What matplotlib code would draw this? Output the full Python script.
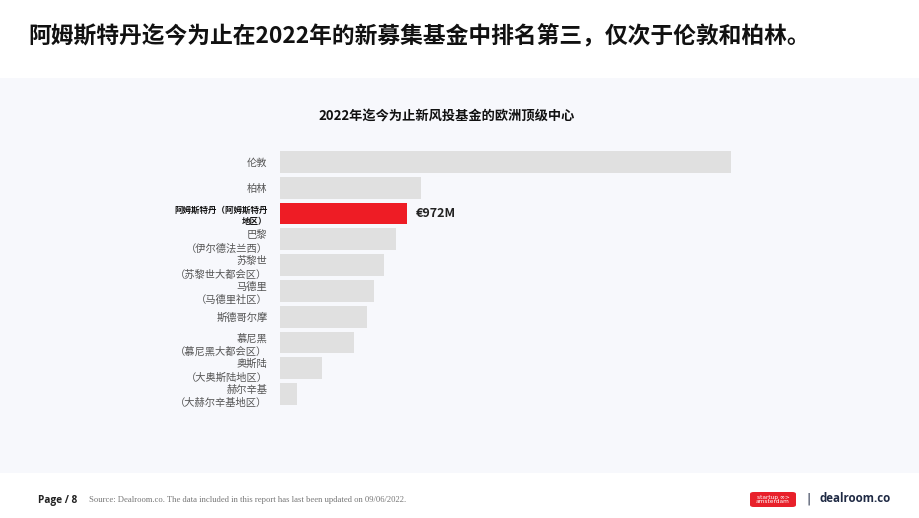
import matplotlib.pyplot as plt
from matplotlib.patches import Rectangle, FancyBboxPatch

plt.rcParams['font.family'] = ['Noto Sans CJK SC', 'DejaVu Sans']

cities = ["伦敦", "柏林", "阿姆斯特丹（阿姆斯特丹\n地区）", "巴黎\n（伊尔德法兰西）", "苏黎世\n（苏黎世大都会区）",
          "马德里\n（马德里社区）", "斯德哥尔摩", "慕尼黑\n（慕尼黑大都会区）", "奥斯陆\n（大奥斯陆地区）",
          "赫尔辛基\n（大赫尔辛基地区）"]
funds = [3450, 1080, 972, 888, 796, 720, 666, 566, 321, 130]
highlight = 2

fig = plt.figure(figsize=(9.2, 5.18), dpi=100)
fig.patch.set_facecolor("white")

# light panel behind the chart
fig.add_artist(Rectangle((0, 45 / 518), 1, 395 / 518, transform=fig.transFigure,
                         facecolor="#f7f8fc", edgecolor="none", zorder=0))

fig.text(28 / 920, 1 - 37 / 518, "阿姆斯特丹迄今为止在2022年的新募集基金中排名第三，仅次于伦敦和柏林。",
         fontsize=16.4, fontweight="bold", color="#111111", va="center", ha="left")
fig.text(447 / 920, 1 - 116 / 518, "2022年迄今为止新风投基金的欧洲顶级中心",
         fontsize=9.5, fontweight="bold", color="#111111", va="center", ha="center")

ax = fig.add_axes([280 / 920, 1 - 407 / 518, 451 / 920, 258 / 518])
ax.set_facecolor("none")
y = list(range(len(cities)))
colors = ["#ee1c25" if i == highlight else "#e0e0e0" for i in y]
ax.barh(y, funds, height=0.84, color=colors)
ax.set_xlim(0, max(funds))
ax.set_ylim(len(cities) - 0.5, -0.5)
ax.set_yticks(y)
ax.set_yticklabels(cities)
for i, lab in enumerate(ax.get_yticklabels()):
    lab.set_fontsize(7.4)
    lab.set_color("#555555")
    lab.set_linespacing(1.4)
    if i == highlight:
        lab.set_fontweight("bold")
        lab.set_color("#111111")
        lab.set_fontsize(6.1)
ax.tick_params(axis="y", length=0, pad=9)
ax.set_xticks([])
for s in ax.spines.values():
    s.set_visible(False)
ax.text(funds[highlight] + 65, highlight, "€972M", fontsize=9, fontweight="bold",
        color="#222222", va="center", ha="left")

# footer
fig.text(38 / 920, 1 - 500 / 518, "Page / 8", fontsize=7.3, fontweight="bold", color="#222222",
         va="center", ha="left", family="Open Sans")
fig.text(89 / 920, 1 - 500 / 518,
         "Source: Dealroom.co. The data included in this report has last been updated on 09/06/2022.",
         fontsize=6.2, color="#777777", va="center", ha="left", family="Liberation Serif")
fig.add_artist(FancyBboxPatch((750 / 920, 1 - 507 / 518), 46 / 920, 15 / 518,
                              boxstyle="round,pad=0,rounding_size=0.004", transform=fig.transFigure,
                              facecolor="#e8202a", edgecolor="none"))
fig.text(773 / 920, 1 - 499.5 / 518, "startup ∞>\namsterdam", fontsize=4.2, color="white",
         va="center", ha="center", linespacing=0.9, family="DejaVu Sans")
fig.text(809 / 920, 1 - 499 / 518, "|", fontsize=9, color="#1f2a44", va="center", ha="center",
         family="DejaVu Sans")
fig.text(820 / 920, 1 - 499 / 518, "dealroom.co", fontsize=8.3, fontweight="bold", color="#1f2a44",
         va="center", ha="left", family="Open Sans")

fig.savefig("out.png", dpi=100, facecolor="white")
